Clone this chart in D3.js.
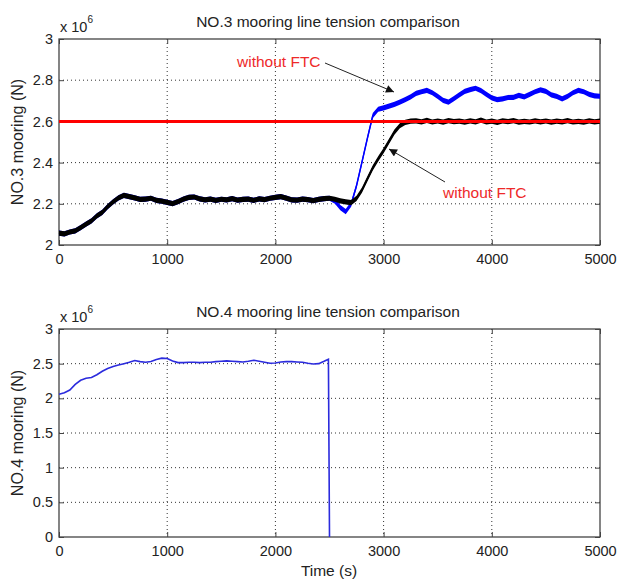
<!DOCTYPE html>
<html>
<head>
<meta charset="utf-8">
<script src="https://cdn.jsdelivr.net/npm/d3@7"></script>
<style>
  body { margin: 0; background: #fff; }
  text { font-family: "Liberation Sans", Arial, sans-serif; }
</style>
</head>
<body>
<div id="chart"></div>
<script>
// values in units of 1e6 N
const no3Time = [0,50,100,150,200,250,300,350,400,450,500,550,600,650,700,750,800,850,900,950,
  1000,1050,1100,1150,1200,1250,1300,1350,1400,1450,1500,1550,1600,1650,1700,1750,1800,1850,1900,1950,
  2000,2050,2100,2150,2200,2250,2300,2350,2400,2450,2500,2550,2600,2650,2700,2750,2800,2850,2900,2950,
  3000,3050,3100,3150,3200,3250,3300,3350,3400,3450,3500,3550,3600,3650,3700,3750,3800,3850,3900,3950,
  4000,4050,4100,4150,4200,4250,4300,4350,4400,4450,4500,4550,4600,4650,4700,4750,4800,4850,4900,4950,5000];

const no3Black = [2.058,2.054,2.063,2.069,2.084,2.101,2.117,2.141,2.158,2.186,2.209,2.229,2.241,2.235,2.229,2.221,2.223,2.227,2.217,2.213,
  2.207,2.201,2.211,2.223,2.231,2.233,2.224,2.219,2.223,2.217,2.222,2.219,2.225,2.218,2.221,2.223,2.217,2.224,2.220,2.227,
  2.231,2.235,2.228,2.219,2.218,2.223,2.220,2.215,2.221,2.225,2.227,2.222,2.214,2.209,2.206,2.226,2.266,2.321,2.374,2.418,
  2.458,2.503,2.548,2.579,2.595,2.601,2.603,2.598,2.605,2.597,2.602,2.596,2.604,2.599,2.601,2.596,2.603,2.598,2.606,2.597,
  2.601,2.595,2.603,2.599,2.604,2.596,2.600,2.597,2.603,2.598,2.602,2.596,2.601,2.598,2.604,2.597,2.600,2.596,2.603,2.598,2.601];

const no3Blue = [2.058,2.054,2.063,2.069,2.084,2.101,2.117,2.141,2.158,2.186,2.209,2.229,2.241,2.235,2.229,2.221,2.223,2.227,2.217,2.213,
  2.207,2.201,2.211,2.223,2.231,2.233,2.224,2.219,2.223,2.217,2.222,2.219,2.225,2.218,2.221,2.223,2.217,2.224,2.220,2.227,
  2.231,2.235,2.228,2.219,2.218,2.223,2.220,2.215,2.221,2.225,2.227,2.213,2.181,2.162,2.198,2.288,2.402,2.518,2.628,2.659,
  2.666,2.674,2.683,2.694,2.706,2.719,2.736,2.744,2.751,2.739,2.721,2.702,2.694,2.711,2.729,2.746,2.754,2.761,2.749,2.731,
  2.714,2.706,2.709,2.716,2.717,2.726,2.719,2.731,2.744,2.753,2.746,2.729,2.721,2.709,2.721,2.739,2.751,2.744,2.731,2.724,2.722];

const no3Limit = 2.6;

const no4Time = [0,50,100,150,200,250,300,350,400,450,500,550,600,650,700,750,800,850,900,950,
  1000,1050,1100,1150,1200,1250,1300,1350,1400,1450,1500,1550,1600,1650,1700,1750,1800,1850,1900,1950,
  2000,2050,2100,2150,2200,2250,2300,2350,2400,2450,2490,2495,2500];
const no4Blue = [2.058,2.08,2.12,2.20,2.26,2.29,2.30,2.34,2.39,2.43,2.46,2.48,2.50,2.52,2.545,2.53,2.52,2.53,2.56,2.58,
  2.575,2.54,2.515,2.515,2.52,2.52,2.515,2.52,2.52,2.53,2.535,2.54,2.535,2.53,2.525,2.535,2.55,2.535,2.52,2.505,
  2.51,2.525,2.53,2.53,2.525,2.52,2.505,2.495,2.50,2.535,2.565,1.30,0];

const xTicks = [0,1000,2000,3000,4000,5000];
const no3YTicks = [2,2.2,2.4,2.6,2.8,3];
const no4YTicks = [0,0.5,1,1.5,2,2.5,3];

const width = 618, height = 580;
const svg = d3.select('#chart').append('svg')
  .attr('width', width).attr('height', height);

svg.append('defs').append('marker')
  .attr('id', 'arrow').attr('viewBox', '0 0 10 10')
  .attr('refX', 10).attr('refY', 5)
  .attr('markerWidth', 14).attr('markerHeight', 8)
  .attr('markerUnits', 'userSpaceOnUse')
  .attr('orient', 'auto')
  .append('path').attr('d', 'M0,0L10,5L0,10z').attr('fill', '#111');

const left = 59, right = 600;

function panel(top, bottom, yDomain, yTicks, title, ylabel) {
  const x = d3.scaleLinear().domain([0, 5000]).range([left, right]);
  const y = d3.scaleLinear().domain(yDomain).range([bottom, top]);
  const g = svg.append('g');

  // grid
  g.append('g').selectAll('line').data(xTicks.slice(1, -1)).join('line')
    .attr('x1', d => x(d)).attr('x2', d => x(d)).attr('y1', top).attr('y2', bottom)
    .attr('stroke', '#333').attr('stroke-dasharray', '1,3');
  g.append('g').selectAll('line').data(yTicks.slice(1, -1)).join('line')
    .attr('x1', left).attr('x2', right).attr('y1', d => y(d)).attr('y2', d => y(d))
    .attr('stroke', '#333').attr('stroke-dasharray', '1,3');

  // axes (ticks inside, matlab style, on all four sides)
  const fmt = d => d3.format('~g')(d);
  const xa = g.append('g').attr('transform', `translate(0,${bottom})`)
    .call(d3.axisBottom(x).tickValues(xTicks).tickSize(-5).tickPadding(9).tickFormat(d3.format('d')));
  const ya = g.append('g').attr('transform', `translate(${left},0)`)
    .call(d3.axisLeft(y).tickValues(yTicks).tickSize(-5).tickPadding(6).tickFormat(fmt));
  const xt = g.append('g').attr('transform', `translate(0,${top})`)
    .call(d3.axisTop(x).tickValues(xTicks).tickSize(-5).tickFormat(''));
  const yr = g.append('g').attr('transform', `translate(${right},0)`)
    .call(d3.axisRight(y).tickValues(yTicks).tickSize(-5).tickFormat(''));
  [xa, ya, xt, yr].forEach(a => {
    a.select('.domain').remove();
    a.selectAll('line').attr('stroke', '#444');
    a.selectAll('text').attr('font-size', 14.5).attr('fill', '#222')
      .style('font-family', '"Liberation Sans", Arial, sans-serif');
  });

  g.append('rect').attr('x', left).attr('y', top)
    .attr('width', right - left).attr('height', bottom - top)
    .attr('fill', 'none').attr('stroke', '#444').attr('stroke-width', 1.3);

  g.append('text').attr('x', 328).attr('y', top - 12).attr('text-anchor', 'middle')
    .attr('font-size', 15.5).attr('fill', '#222').text(title);

  const exp = g.append('text').attr('x', left + 1).attr('y', top - 7)
    .attr('font-size', 14.5).attr('fill', '#222');
  exp.append('tspan').text('x 10');
  exp.append('tspan').attr('dy', -9).attr('font-size', 10).text('6');

  g.append('text')
    .attr('transform', `translate(23,${(top + bottom) / 2}) rotate(-90)`)
    .attr('text-anchor', 'middle').attr('font-size', 16).attr('fill', '#222')
    .text(ylabel);

  return { x, y, g };
}

const p3 = panel(39, 245, [2, 3], no3YTicks, 'NO.3 mooring line tension comparison', 'NO.3 mooring (N)');
const p4 = panel(329, 537, [0, 3], no4YTicks, 'NO.4 mooring line tension comparison', 'NO.4 mooring (N)');

// noisy signals drawn as a thin vertical band around the trace
const band = 2.6;
const area3 = d3.area().x((d, i) => p3.x(no3Time[i]))
  .y0(d => p3.y(d) + band).y1(d => p3.y(d) - band);
const line3 = d3.line().x((d, i) => p3.x(no3Time[i])).y(d => p3.y(d));

[[no3Blue, '#0000ff'], [no3Black, '#000000']].forEach(([s, c]) => {
  p3.g.append('path').datum(s).attr('d', area3).attr('fill', c);
  p3.g.append('path').datum(s).attr('d', line3)
    .attr('fill', 'none').attr('stroke', c).attr('stroke-width', 1.5);
});

p3.g.append('line').attr('x1', left).attr('x2', right)
  .attr('y1', p3.y(no3Limit)).attr('y2', p3.y(no3Limit))
  .attr('stroke', '#ff0000').attr('stroke-width', 3);

// annotations
p3.g.append('text').attr('x', 237).attr('y', 67).attr('font-size', 15.5).attr('fill', '#ee2a2a').text('without FTC');
p3.g.append('line').attr('x1', 325).attr('y1', 63).attr('x2', 394).attr('y2', 92)
  .attr('stroke', '#222').attr('stroke-width', 1).attr('marker-end', 'url(#arrow)');
p3.g.append('text').attr('x', 443).attr('y', 198).attr('font-size', 15.5).attr('fill', '#ee2a2a').text('without FTC');
p3.g.append('line').attr('x1', 445).attr('y1', 182).attr('x2', 389).attr('y2', 149)
  .attr('stroke', '#222').attr('stroke-width', 1).attr('marker-end', 'url(#arrow)');

const line4 = d3.line().x((d, i) => p4.x(no4Time[i])).y(d => p4.y(d));
p4.g.append('path').datum(no4Blue).attr('d', line4)
  .attr('fill', 'none').attr('stroke', '#2b2bdd').attr('stroke-width', 1.6);

svg.append('text').attr('x', 329).attr('y', 576).attr('text-anchor', 'middle')
  .attr('font-size', 15.5).attr('fill', '#222').text('Time (s)');
</script>
</body>
</html>
